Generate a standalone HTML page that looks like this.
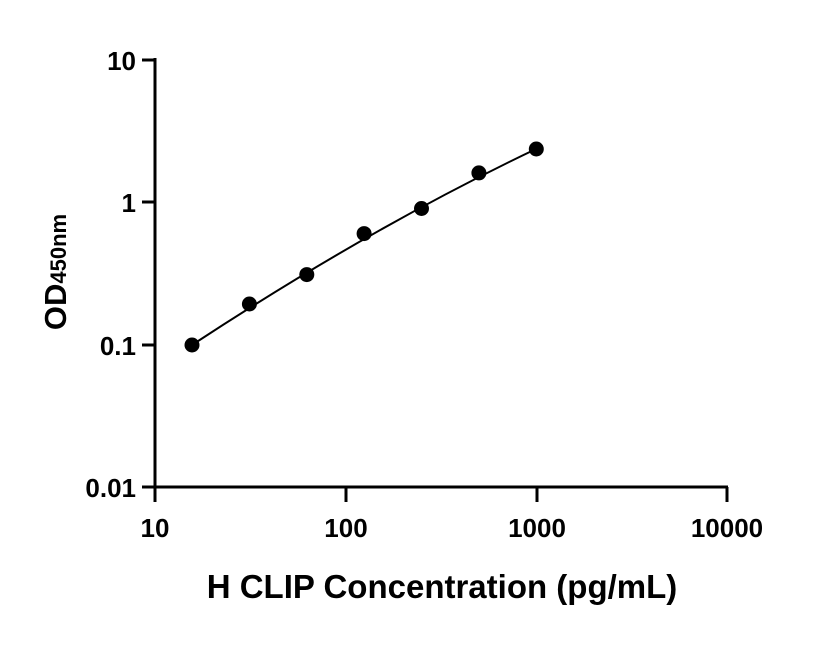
<!DOCTYPE html>
<html><head><style>body{margin:0;background:#fff}</style></head><body>
<svg width="816" height="640" xmlns="http://www.w3.org/2000/svg" font-family="Liberation Sans, sans-serif" font-weight="bold">
<g stroke="#000" stroke-width="3" fill="none">
<line x1="155" y1="58" x2="155" y2="488"/>
<line x1="153.5" y1="487" x2="728" y2="487"/>
<line x1="142" y1="60" x2="155" y2="60"/>
<line x1="142" y1="202" x2="155" y2="202"/>
<line x1="142" y1="345" x2="155" y2="345"/>
<line x1="142" y1="487" x2="155" y2="487"/>
<line x1="155" y1="487" x2="155" y2="502"/>
<line x1="346" y1="487" x2="346" y2="502"/>
<line x1="537" y1="487" x2="537" y2="502"/>
<line x1="727" y1="487" x2="727" y2="502"/>
<path stroke-width="2" d="M192,345 Q370,228 536,149"/>
</g>
<g fill="#000">
<circle cx="192" cy="345" r="7.5"/><circle cx="249.4" cy="304" r="7.5"/><circle cx="306.8" cy="274.6" r="7.5"/><circle cx="364.1" cy="233.6" r="7.5"/><circle cx="421.5" cy="208.5" r="7.5"/><circle cx="478.9" cy="172.9" r="7.5"/><circle cx="536.3" cy="149" r="7.5"/>
</g>
<g font-size="26" text-anchor="end">
<text x="136" y="70">10</text><text x="136" y="212">1</text><text x="136" y="355">0.1</text><text x="136" y="497">0.01</text>
</g>
<g font-size="26" text-anchor="middle">
<text x="155" y="537">10</text><text x="346" y="537">100</text><text x="537" y="537">1000</text><text x="727" y="537">10000</text>
</g>
<text x="442" y="598" font-size="33" text-anchor="middle">H CLIP Concentration (pg/mL)</text>
<text transform="translate(66,272) rotate(-90)" font-size="31" text-anchor="middle">OD<tspan font-size="22">450nm</tspan></text>
</svg>
</body></html>
